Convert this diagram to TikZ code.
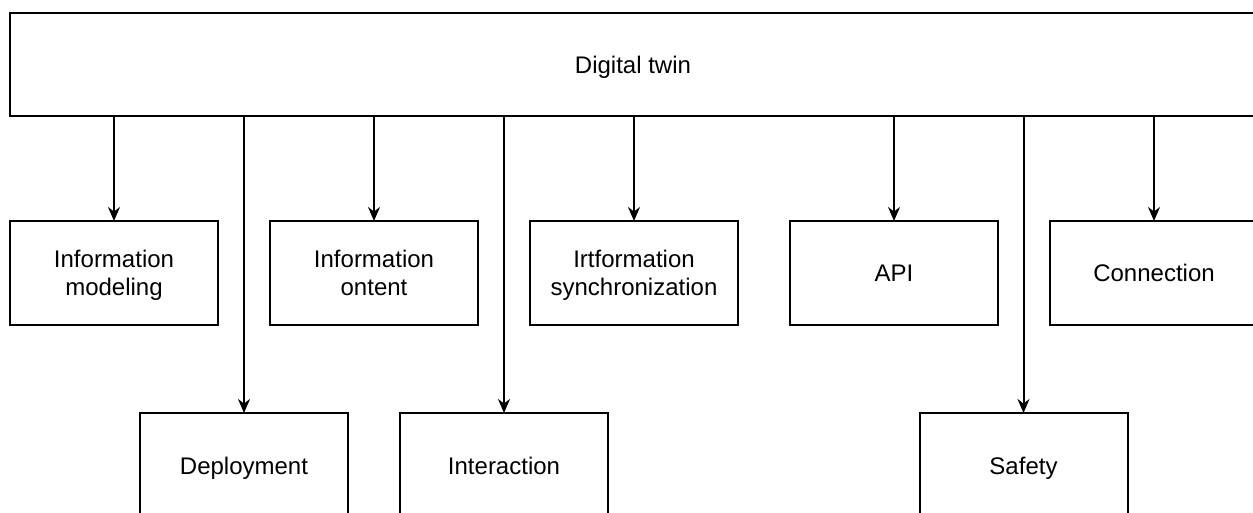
\documentclass[tikz,border=0pt]{standalone}
\usepackage{fontspec}
\setmainfont{Liberation Sans}
\usetikzlibrary{positioning}
\usetikzlibrary{arrows.meta}
\newcommand\lnstrut{\rule[-3pt]{0pt}{15pt}}
\newcommand\boxfont{\fontsize{12pt}{14pt}\selectfont\lineskiplimit=-100pt\relax}
\begin{document}
\begin{tikzpicture}[x=0.5pt, y=-0.5pt,
    part/.style={draw=black, line width=1pt, rectangle, align=center,
        minimum width=104pt, minimum height=52pt, inner sep=0pt, outer sep=0pt,
        font=\boxfont},
    whole/.style={part, minimum width=623pt, minimum height=51.5pt},
    link/.style={line width=1pt, -{Stealth[length=7pt, width=6pt]}}]
\useasboundingbox (0,0) rectangle (1253,513);
\clip (0,0) rectangle (1253,513);
\node[whole] (twin) at (633,65) {\lnstrut Digital twin};
% first row
\node[part] (modeling) at (114,273) {\lnstrut Information\\\lnstrut modeling};
\node[part] (content)  [right=26pt of modeling] {\lnstrut Information\\\lnstrut ontent};
\node[part] (sync)     [right=26pt of content] {\lnstrut Irtformation\\\lnstrut synchronization};
\node[part] (api)      [right=26pt of sync] {\lnstrut API};
\node[part] (conn)     [right=26pt of api] {\lnstrut Connection};
% second row
\node[part] (deploy)   at (244,465) {\lnstrut Deployment};
\node[part] (interact) at (504,465) {\lnstrut Interaction};
\node[part] (safety)   at (1023.5,465) {\lnstrut Safety};

\foreach \n in {modeling,content,sync,api,conn,deploy,interact,safety}
  \draw[link] (twin.south -| \n.north) -- (\n.north);
\end{tikzpicture}
\end{document}
